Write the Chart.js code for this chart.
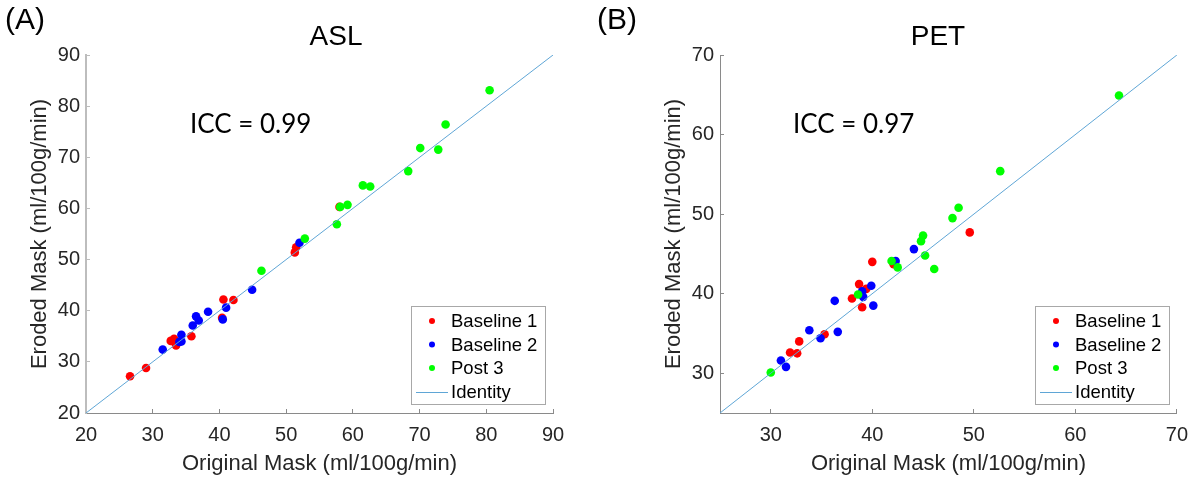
<!DOCTYPE html>
<html>
<head>
<meta charset="utf-8">
<script src="https://cdn.jsdelivr.net/npm/chart.js@4"></script>
<style>
  body { margin: 0; background: #fff; width: 1202px; height: 478px; overflow: hidden; position: relative; }
  .panel { position: absolute; top: 0; height: 478px; }
</style>
</head>
<body>
<div class="panel" style="left:0;width:590px"><canvas id="asl" width="590" height="478"></canvas></div>
<div class="panel" style="left:590px;width:612px"><canvas id="pet" width="612" height="478"></canvas></div>
<script>
// series labels
const seriesLabels = ["Baseline 1", "Baseline 2", "Post 3", "Identity"];

// ASL (panel A)
const aslBase1X = [26.6, 29.0, 32.7, 33.2, 33.5, 35.8, 40.4, 40.6, 42.1, 51.3, 51.5, 58.0];
const aslBase1Y = [27.2, 28.8, 34.1, 34.5, 33.2, 35.0, 38.6, 42.2, 42.1, 51.4, 52.4, 60.3];
const aslBase2X = [31.5, 34.0, 34.3, 34.3, 36.0, 36.5, 36.9, 38.3, 40.5, 41.0, 44.9, 52.0];
const aslBase2Y = [32.4, 33.9, 34.0, 35.3, 37.1, 38.9, 38.1, 39.8, 38.3, 40.6, 44.1, 53.3];
const aslPost3X = [46.3, 52.8, 57.6, 58.1, 59.2, 61.5, 62.6, 68.3, 70.1, 72.8, 73.9, 80.5];
const aslPost3Y = [47.8, 54.1, 56.9, 60.3, 60.7, 64.5, 64.3, 67.3, 71.8, 71.5, 76.4, 83.1];
const aslLimits = [20, 90];
const aslTicks = [20, 30, 40, 50, 60, 70, 80, 90];

// PET (panel B)
const petBase1X = [31.9, 32.6, 32.8, 35.3, 38.0, 38.7, 39.0, 39.4, 40.0, 42.1, 49.6];
const petBase1Y = [32.6, 32.5, 34.0, 34.9, 39.4, 41.2, 38.3, 40.6, 44.0, 43.7, 47.7];
const petBase2X = [31.0, 31.5, 33.8, 34.9, 36.3, 36.6, 39.0, 39.1, 39.9, 40.1, 42.3, 44.1];
const petBase2Y = [31.6, 30.8, 35.4, 34.4, 39.1, 35.2, 40.3, 39.6, 41.0, 38.5, 44.1, 45.6];
const petPost3X = [30.0, 38.6, 41.9, 42.5, 44.8, 45.0, 45.2, 46.1, 47.9, 48.5, 52.6, 64.3];
const petPost3Y = [30.1, 39.9, 44.1, 43.3, 46.6, 47.3, 44.8, 43.1, 49.5, 50.8, 55.4, 64.9];
const petLimits = [25, 70];
const petTicks = [30, 40, 50, 60, 70];

const FONT = '"Liberation Sans", Arial, Helvetica, sans-serif';
Chart.defaults.font.family = FONT;
Chart.defaults.color = "#262626";

function pts(xs, ys) {
  return xs.map((x, i) => ({ x: x, y: ys[i] }));
}

// titles, panel letter, ICC text and the boxed legend
const panelText = {
  id: "panelText",
  afterDraw(chart, args, opts) {
    const ctx = chart.ctx;
    const a = chart.chartArea;
    ctx.save();
    ctx.fillStyle = "#000";
    ctx.textBaseline = "middle";

    ctx.font = "30px " + FONT;
    ctx.textAlign = "left";
    ctx.fillText(opts.letter, opts.letterX, 21);

    ctx.font = "28px " + FONT;
    ctx.textAlign = "center";
    ctx.fillText(opts.title, opts.titleX, 37);

    ctx.font = "26px Lato, 'Open Sans', sans-serif";
    ctx.textAlign = "left";
    ctx.fillText(opts.icc, opts.iccX, 125);

    // legend box
    const bw = 134, bh = 98;
    const bx = Math.round(a.right - 8 - bw), by = Math.round(a.bottom - 9 - bh);
    ctx.fillStyle = "#fff";
    ctx.fillRect(bx, by, bw, bh);
    ctx.strokeStyle = "#a8a8a8";
    ctx.lineWidth = 1;
    ctx.strokeRect(bx + 0.5, by + 0.5, bw, bh);
    const rows = [15, 38.5, 62, 86];
    ctx.font = "18.5px " + FONT;
    chart.data.datasets.forEach((ds, i) => {
      const y = by + rows[i];
      if (ds.type === "line") {
        ctx.strokeStyle = ds.borderColor;
        ctx.beginPath();
        ctx.moveTo(bx + 5, y + 0.5);
        ctx.lineTo(bx + 37, y + 0.5);
        ctx.stroke();
      } else {
        ctx.fillStyle = ds.backgroundColor;
        ctx.beginPath();
        ctx.arc(bx + 21, y, 3, 0, Math.PI * 2);
        ctx.fill();
      }
      ctx.fillStyle = "#000";
      ctx.fillText(ds.label, bx + 40, y + 1);
    });
    ctx.restore();
  }
};

function scatterSet(label, color, data, order) {
  return {
    label: label,
    data: data,
    backgroundColor: color,
    borderColor: color,
    borderWidth: 0,
    pointRadius: 4.3,
    order: order
  };
}

function makeChart(id, sets, limits, ticks, opt) {
  const axisBase = (color, width) => ({
    type: "linear",
    min: limits[0],
    max: limits[1],
    afterBuildTicks: s => { s.ticks = ticks.map(v => ({ value: v })); },
    grid: { drawOnChartArea: false, drawTicks: true, tickLength: -4, color: color, lineWidth: 1 },
    border: { display: true, color: color, width: width }
  });

  const xAxis = axisBase("#8a8a8a", 1);
  xAxis.afterFit = s => { s.height = 65; };
  xAxis.ticks = { font: { size: 20 }, padding: 14, color: "#262626" };
  xAxis.title = { display: true, text: "Original Mask (ml/100g/min)", font: { size: 22 }, color: "#262626", padding: { top: 0, bottom: 1 } };

  const yAxis = axisBase(opt.yColor, opt.yWidth);
  yAxis.afterFit = s => { s.width = opt.axisLeft; };
  yAxis.ticks = { font: { size: 20 }, padding: 10, color: "#262626" };
  yAxis.title = { display: true, text: "Eroded Mask (ml/100g/min)", font: { size: 22 }, color: "#262626", padding: { top: opt.yTitlePad, bottom: 0 } };

  return new Chart(document.getElementById(id), {
    type: "scatter",
    data: {
      datasets: [
        scatterSet(seriesLabels[0], "#ff0000", sets[0], 4),
        scatterSet(seriesLabels[1], "#0000ff", sets[1], 3),
        scatterSet(seriesLabels[2], "#00ff00", sets[2], 2),
        {
          type: "line",
          label: seriesLabels[3],
          data: [{ x: limits[0], y: limits[0] }, { x: limits[1], y: limits[1] }],
          borderColor: "#5fa6d6",
          borderWidth: 1,
          pointRadius: 0,
          fill: false,
          order: 1
        }
      ]
    },
    options: {
      responsive: false,
      animation: false,
      layout: { padding: { top: 55, right: opt.padRight, bottom: 0, left: 0 } },
      plugins: {
        legend: { display: false },
        tooltip: { enabled: false },
        panelText: opt.text
      },
      scales: { x: xAxis, y: yAxis }
    },
    plugins: [panelText]
  });
}

makeChart("asl",
  [pts(aslBase1X, aslBase1Y), pts(aslBase2X, aslBase2Y), pts(aslPost3X, aslPost3Y)],
  aslLimits, aslTicks,
  {
    axisLeft: 86, padRight: 37, yColor: "#bdbdbd", yWidth: 2, yTitlePad: 27,
    text: { letter: "(A)", letterX: 5, title: "ASL", titleX: 336, icc: "ICC = 0.99", iccX: 190 }
  });

makeChart("pet",
  [pts(petBase1X, petBase1Y), pts(petBase2X, petBase2Y), pts(petPost3X, petPost3Y)],
  petLimits, petTicks,
  {
    axisLeft: 130, padRight: 15, yColor: "#8a8a8a", yWidth: 1, yTitlePad: 71,
    text: { letter: "(B)", letterX: 7, title: "PET", titleX: 348, icc: "ICC = 0.97", iccX: 203 }
  });
</script>
</body>
</html>
